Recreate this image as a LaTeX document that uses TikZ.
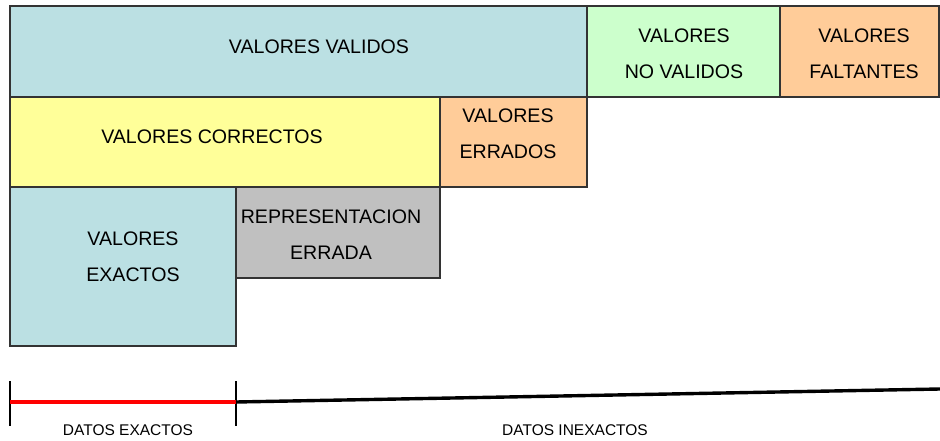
\documentclass[tikz,border=0pt]{standalone}
\usepackage{fontspec}
\setmainfont{Liberation Sans}
\definecolor{celeste}{RGB}{187,224,227}
\definecolor{verde}{RGB}{204,255,204}
\definecolor{naranja}{RGB}{255,204,153}
\definecolor{amarillo}{RGB}{255,255,153}
\definecolor{gris}{RGB}{192,192,192}
\begin{document}
\begin{tikzpicture}[x=1pt, y=-1pt,
            caja/.style={draw=black!80, line width=1.3pt, anchor=north west, inner sep=0pt, outer sep=0pt},
            texto/.style={align=center, font=\fontsize{19.6}{36}\selectfont},
            rotulo/.style={font=\fontsize{15.5}{17}\selectfont},
            linea/.style={line width=3.4pt}
        ]
        \useasboundingbox (0,0) rectangle (940,441);

        % --- FILA 1 ---
        \node[caja, fill=celeste, minimum width=577pt, minimum height=91pt] (V) at (10,6) {};
        \node[caja, fill=verde, minimum width=193pt, minimum height=91pt] (NV) at (587,6) {};
        \node[caja, fill=naranja, minimum width=159pt, minimum height=91pt] (F) at (780,6) {};
        \node[texto] (tV) at (319,47) {VALORES VALIDOS};
        \node[texto] (tNV) at (684,54) {VALORES\\NO VALIDOS};
        \node[texto] (tF) at (864,54) {VALORES\\FALTANTES};

        % --- FILA 2 ---
        \node[caja, fill=amarillo, minimum width=430pt, minimum height=90pt] (C) at (10,97) {};
        \node[caja, fill=naranja, minimum width=147pt, minimum height=90pt] (E) at (440,97) {};
        \node[texto] (tC) at (212,137) {VALORES CORRECTOS};
        \node[texto] (tE) at (508,134) {VALORES\\ERRADOS};

        % --- FILA 3 ---
        \node[caja, fill=celeste, minimum width=226pt, minimum height=159pt] (X) at (10,187) {};
        \node[caja, fill=gris, minimum width=204pt, minimum height=91pt] (R) at (236,187) {};
        \node[texto] (tX) at (133,257) {VALORES\\EXACTOS};
        \node[texto] (tR) at (331,235) {REPRESENTACION\\ERRADA};

        % --- ESCALA ---
        \coordinate (ini) at (10,402);
        \coordinate (medio) at (236,402);
        \coordinate (fin) at (940,389);
        \draw[line width=1.3pt] (ini) ++(0,-21) -- ++(0,45);
        \draw[line width=1.3pt] (medio) ++(0,-21) -- ++(0,45);
        \draw[linea, red] (ini) -- (medio);
        \draw[linea] (medio) -- (fin);
        \node[rotulo] (dE) at (128,430) {DATOS EXACTOS};
        \node[rotulo] (dI) at (575,430) {DATOS INEXACTOS};
    \end{tikzpicture}
\end{document}
